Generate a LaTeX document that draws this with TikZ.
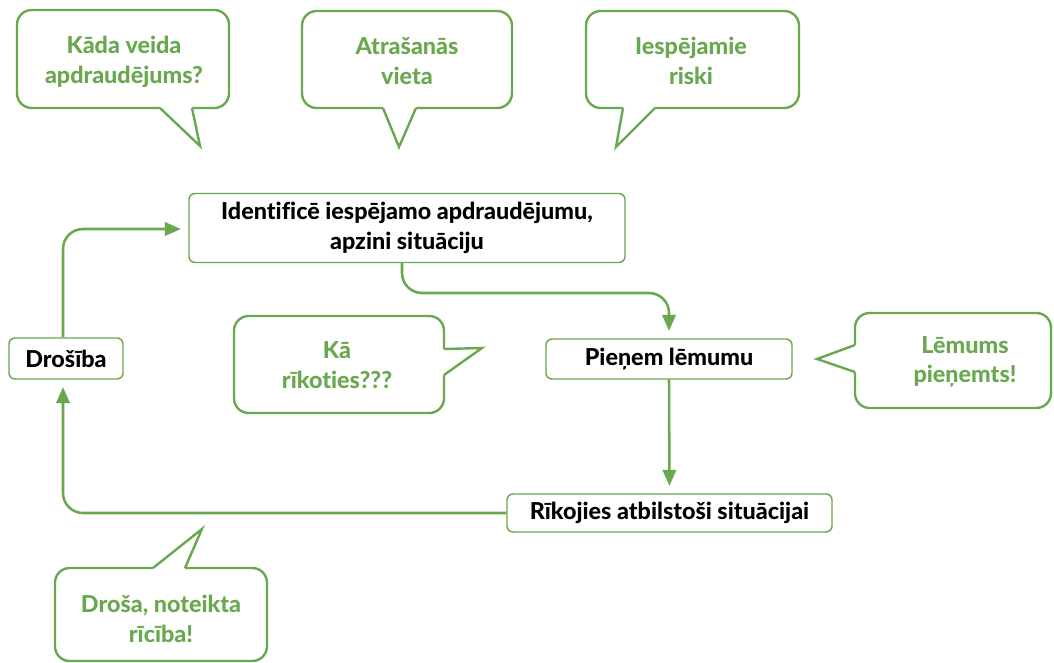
\documentclass[tikz,border=0pt]{standalone}
\usepackage{fontspec}
\setmainfont{Lato}[BoldFont={Lato Heavy}, Ligatures=CommonOff]
\usetikzlibrary{arrows.meta,calc}
\definecolor{grn}{HTML}{6AA84F}
\begin{document}
\begin{tikzpicture}[x=0.75pt,y=-0.75pt,
  box/.style={draw=grn, line width=1.1pt, rounded corners=4.5pt, fill=white, font=\fontsize{17.5}{22.5}\selectfont\bfseries, align=center, inner sep=0pt},
  conn/.style={draw=grn, line width=1.9pt, rounded corners=15pt, -{Triangle[length=12pt,width=10pt]}, shorten >=5.5pt},
  bubble/.style={draw=grn, line width=1.8pt, rounded corners=11pt, fill=white},
  tailfill/.style={fill=white},
  tail/.style={draw=grn, line width=1.8pt, line join=miter},
  btext/.style={text=grn, font=\fontsize{17.5}{22}\selectfont\bfseries, align=center}
]
\useasboundingbox (0,0) rectangle (1054,663);

% callout 1
\draw[bubble] (17,10) rectangle (229,108);
\fill[tailfill] (160,108) -- (200,146) -- (192,108) -- (192,104) -- (160,104) -- cycle;
\draw[tail] (160,108) -- (200,146) -- (192,108);
\node[btext] (t1) at (124,62) {Kāda veida\\apdraudējums?};

% callout 2
\draw[bubble] (302,11) rectangle (512,108);
\fill[tailfill] (383,108) -- (399,147) -- (416,108) -- (416,104) -- (383,104) -- cycle;
\draw[tail] (383,108) -- (399,147) -- (416,108);
\node[btext] (t2) at (407,61) {Atrašanās\\vieta};

% callout 3
\draw[bubble] (586,11) rectangle (799,108);
\fill[tailfill] (623,108) -- (616,147) -- (655,108) -- (655,104) -- (623,104) -- cycle;
\draw[tail] (623,108) -- (616,147) -- (655,108);
\node[btext] (t3) at (691,61) {Iespējamie\\riski};

% callout 4
\draw[bubble] (234,316) rectangle (444,413);
\fill[tailfill] (444,349) -- (482,348) -- (444,375) -- (440,375) -- (440,349) -- cycle;
\draw[tail] (444,349) -- (482,348) -- (444,375);
\node[btext] (t4) at (337,365) {Kā\\rīkoties???};

% callout 5
\draw[bubble] (855,313) rectangle (1051,408);
\fill[tailfill] (855,345) -- (817,359) -- (855,372) -- (859,372) -- (859,345) -- cycle;
\draw[tail] (855,345) -- (817,359) -- (855,372);
\node[btext] (t5) at (965,362) {Lēmums\\pieņemts!};

% callout 6
\draw[bubble] (55,568) rectangle (267,661);
\fill[tailfill] (153,568) -- (202,529) -- (185,568) -- (185,572) -- (153,572) -- cycle;
\draw[tail] (153,568) -- (202,529) -- (185,568);
\node[btext] (t6) at (161,619) {Droša, noteikta\\rīcība!};

% main nodes
\node[box, minimum width=327pt, minimum height=51.75pt] (n1) at (407,228) {Identificē iespējamo apdraudējumu,\\apzini situāciju};
\node[box, minimum width=184.5pt, minimum height=30pt] (n2) at (669,359) {Pieņem lēmumu};
\node[box, minimum width=243.75pt, minimum height=28.5pt] (n3) at (669.5,513) {Rīkojies atbilstoši situācijai};
\node[box, minimum width=85.5pt, minimum height=30.75pt] (n4) at (66,358.5) {Drošība};

% connectors
\coordinate (k1) at (402,293);
\draw[conn] (n1.south -| k1) -- (k1) -- (k1 -| n2.north) -- (n2.north);
\draw[conn] (n2.south) -- (n3.north);
\coordinate (k2) at (63,513);
\draw[conn] (n3.west) -- (k2) -- (n4.south -| k2);
\coordinate (k3) at (63,229);
\draw[conn] (n4.north -| k3) -- (k3) -- (k3 -| n1.west);
\end{tikzpicture}
\end{document}
